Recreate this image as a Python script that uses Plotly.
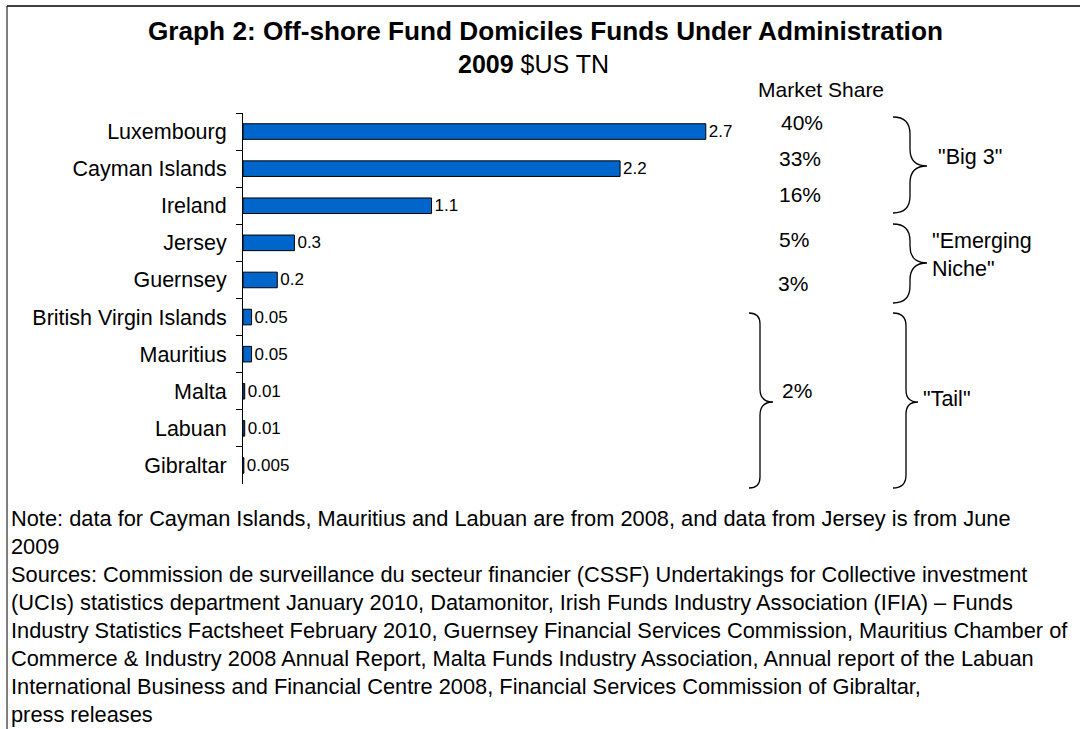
import plotly.graph_objects as go

# ---------------- data ----------------
categories = ["Luxembourg", "Cayman Islands", "Ireland", "Jersey", "Guernsey",
              "British Virgin Islands", "Mauritius", "Malta", "Labuan", "Gibraltar"]
values = [2.7, 2.2, 1.1, 0.3, 0.2, 0.05, 0.05, 0.01, 0.01, 0.005]
value_labels = [f"{v:g}" for v in values]
share_labels = ["40%", "33%", "16%", "5%", "3%", "2%"]
group_labels = ['"Big 3"', '"Emerging<br>Niche"', '"Tail"']
title_line1 = "Graph 2: Off-shore Fund Domiciles Funds Under Administration"
title_line2 = "<b>2009</b> $US TN"
share_header = "Market Share"
note_lines = [
    "Note: data for Cayman Islands, Mauritius and Labuan are from 2008, and data from Jersey is from June",
    "2009",
    "Sources: Commission de surveillance du secteur financier (CSSF) Undertakings for Collective investment",
    "(UCIs) statistics department January 2010, Datamonitor, Irish Funds Industry Association (IFIA) \u2013 Funds",
    "Industry Statistics Factsheet February 2010, Guernsey Financial Services Commission, Mauritius Chamber of",
    "Commerce & Industry 2008 Annual Report, Malta Funds Industry Association, Annual report of the Labuan",
    "International Business and Financial Centre 2008, Financial Services Commission of Gibraltar,",
    "press releases",
]

# ---------------- layout geometry (pixels) ----------------
W, H = 1080, 729
L, R, T, B = 243, 37, 113, 245
PW, PH = W - L - R, H - T - B
PX_PER_UNIT = 171.4
FONT = "Liberation Sans, Arial, sans-serif"


def px(x):
    return (x - L) / PW


def py(y):
    return (H - B - y) / PH


def brace(x0, xm, xt, y0, y1, yt):
    r = (xm - x0)
    r2 = (xt - xm)
    pts = [
        f"M{px(x0):.5f},{py(y0):.5f}",
        f"Q{px(xm):.5f},{py(y0):.5f} {px(xm):.5f},{py(y0 + r):.5f}",
        f"L{px(xm):.5f},{py(yt - r2):.5f}",
        f"Q{px(xm):.5f},{py(yt):.5f} {px(xt):.5f},{py(yt):.5f}",
        f"Q{px(xm):.5f},{py(yt):.5f} {px(xm):.5f},{py(yt + r2):.5f}",
        f"L{px(xm):.5f},{py(y1 - r):.5f}",
        f"Q{px(xm):.5f},{py(y1):.5f} {px(x0):.5f},{py(y1):.5f}",
    ]
    return dict(type="path", xref="paper", yref="paper", path=" ".join(pts),
                line=dict(color="black", width=1.3))


fig = go.Figure()
fig.add_trace(go.Bar(
    y=categories, x=values, orientation="h",
    marker=dict(color="#0066CC", line=dict(color="black", width=1)),
    width=0.42,
    text=value_labels, textposition="outside", constraintext="none",
    textfont=dict(family=FONT, size=17, color="black"),
    cliponaxis=False, hoverinfo="skip",
))

annotations = []
annotations.append(dict(text=f"<b>{title_line1}</b>", x=px(545), y=py(31), xref="paper", yref="paper",
                        showarrow=False, xanchor="center", yanchor="middle",
                        font=dict(family=FONT, size=26.2, color="black")))
annotations.append(dict(text=title_line2, x=px(533), y=py(64), xref="paper", yref="paper",
                        showarrow=False, xanchor="center", yanchor="middle",
                        font=dict(family=FONT, size=25, color="black")))
annotations.append(dict(text=share_header, x=px(821), y=py(89), xref="paper", yref="paper",
                        showarrow=False, xanchor="center", yanchor="middle",
                        font=dict(family=FONT, size=21, color="black")))

share_pos = [(802, 122), (800, 158), (800, 194), (794, 239), (793, 283), (797, 390)]
for lab, (x, y) in zip(share_labels, share_pos):
    annotations.append(dict(text=lab, x=px(x), y=py(y), xref="paper", yref="paper",
                            showarrow=False, xanchor="center", yanchor="middle",
                            font=dict(family=FONT, size=21, color="black")))

group_pos = [(936, 157), (930, 255), (921, 399)]
for lab, (x, y) in zip(group_labels, group_pos):
    annotations.append(dict(text=lab, x=px(x), y=py(y), xref="paper", yref="paper",
                            showarrow=False, xanchor="left", yanchor="middle", align="left",
                            font=dict(family=FONT, size=21.5, color="black")))

for i, line in enumerate(note_lines):
    annotations.append(dict(text=line, x=px(9), y=py(518 + 28 * i), xref="paper", yref="paper",
                            showarrow=False, xanchor="left", yanchor="middle", align="left",
                            font=dict(family=FONT, size=21.8, color="black")))

shapes = [
    brace(893, 910, 927, 117, 213, 166),
    brace(893, 910, 927, 224, 303, 263),
    brace(893, 906, 918, 313, 488, 402),
    brace(749, 760, 773, 313, 488, 402),
    dict(type="line", xref="paper", yref="paper", x0=px(7), x1=px(1080), y0=py(6), y1=py(6),
         line=dict(color="#404040", width=2)),
    dict(type="line", xref="paper", yref="paper", x0=px(7), x1=px(7), y0=py(6), y1=py(729),
         line=dict(color="black", width=1)),
]

fig.update_layout(
    width=W, height=H,
    margin=dict(l=L, r=R, t=T, b=B, pad=0),
    paper_bgcolor="white", plot_bgcolor="white",
    showlegend=False,
    font=dict(family=FONT, size=21, color="black"),
    annotations=annotations, shapes=shapes,
    xaxis=dict(range=[0, PW / PX_PER_UNIT], visible=False, fixedrange=True),
    yaxis=dict(categoryorder="array", categoryarray=categories,
               range=[len(categories) - 0.5, -0.5],
               showline=True, linecolor="black", linewidth=1,
               ticks="outside", ticklen=6, tickcolor="black", tickwidth=1,
               tickson="boundaries", showgrid=False, zeroline=False,
               ticklabelstandoff=11,
               tickfont=dict(family=FONT, size=21.5, color="black"),
               fixedrange=True),
)

fig.write_html("out.html")
